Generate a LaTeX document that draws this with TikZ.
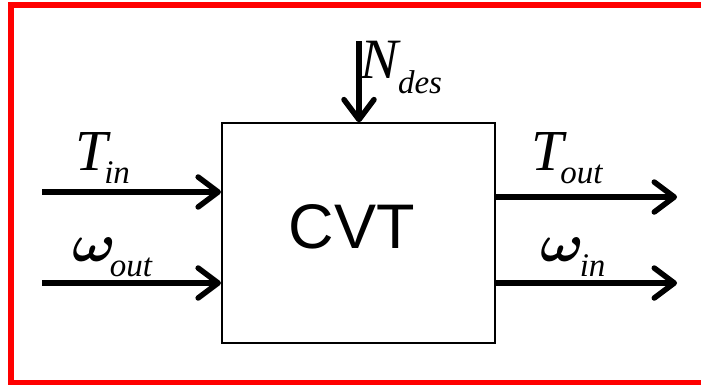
\documentclass[tikz,border=0pt]{standalone}
\usepackage{fontspec}
\usepackage{graphicx}
\usetikzlibrary{arrows.meta}
\newfontfamily\lblfont{Liberation Serif}
\newfontfamily\cvtfont{Liberation Sans}
\newcommand{\bigsz}{\fontsize{58}{58}\selectfont}
\newcommand{\subsz}{\fontsize{33}{33}\selectfont}
\newcommand{\lblsub}[2]{\raisebox{-#1}{\subsz\itshape #2}}
\newcommand{\bigomega}{\scalebox{5.8}[5.3]{\boldmath$\omega$}}
\tikzset{
  sig/.style={line width=5.5pt, -{Straight Barb[length=20pt,width=30pt,round]}},
  lbl/.style={anchor=base west, inner sep=0pt, outer sep=0pt, font=\lblfont\itshape},
  blk/.style={draw, line width=2pt, minimum width=273pt, minimum height=219.7pt, inner sep=0pt}
}
\begin{document}
\begin{tikzpicture}[x=1pt,y=-1pt]
\useasboundingbox (0,0) rectangle (701,384);
% red frame (right side out of view)
\draw[red, line width=6pt] (720,5.3) -- (11,5.3) -- (11,382.5) -- (720,382.5);
% block
\node[blk] (cvt) at (358.4,233.2) {};
\node[font=\cvtfont, anchor=base, inner sep=0pt] (cvtlbl) at (351.6,248) {\fontsize{63}{63}\selectfont CVT};
% free ends
\coordinate (tin) at (42,192);
\coordinate (win) at (42,283);
\coordinate (tout) at (677,197);
\coordinate (wout) at (677,283);
\coordinate (ndes) at (359,41);
% connectors
\draw[sig] (tin) -- (tin -| cvt.west);
\draw[sig] (win) -- (win -| cvt.west);
\draw[sig] (tout -| cvt.east) -- (tout);
\draw[sig] (wout -| cvt.east) -- (wout);
\draw[sig] (ndes) -- (ndes |- cvt.north);
% labels
\node[lbl] (ltin) at (75,170) {\bigsz T\kern-3pt\lblsub{13pt}{in}};
\node[lbl] (lwout) at (72,261) {\bigomega\kern-6pt\lblsub{15pt}{out}};
\node[lbl] (ltout) at (531,170) {\bigsz T\kern-3pt\lblsub{13pt}{out}};
\node[lbl] (lwin) at (540,261) {\bigomega\kern-4pt\lblsub{15pt}{in}};
\node[lbl] (lndes) at (360,78) {\fontsize{57}{57}\selectfont N\kern0pt\lblsub{15pt}{des}};
\end{tikzpicture}
\end{document}
